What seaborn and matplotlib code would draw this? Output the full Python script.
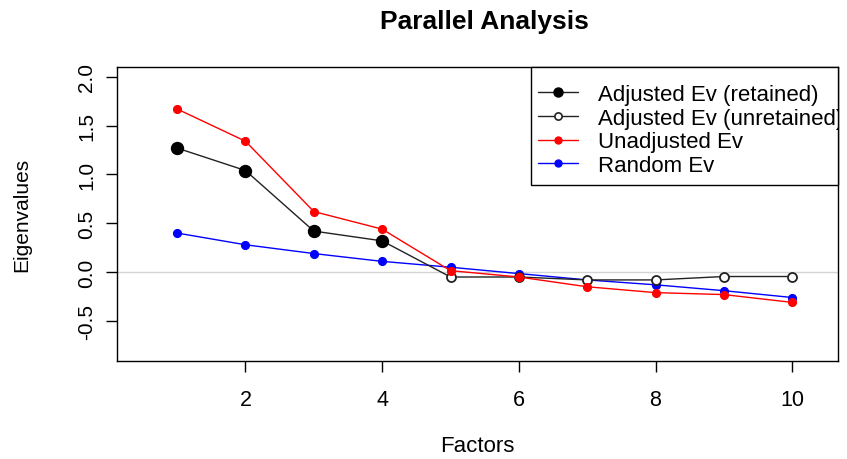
import matplotlib
matplotlib.use("Agg")
import matplotlib.pyplot as plt
import seaborn as sns
import pandas as pd
from matplotlib.lines import Line2D
from matplotlib.patches import Rectangle

factors = [1, 2, 3, 4, 5, 6, 7, 8, 9, 10]
adjusted_ev = [1.27, 1.04, 0.42, 0.32, -0.05, -0.05, -0.08, -0.08, -0.045, -0.045]
n_retained = 4
unadjusted_ev = [1.67, 1.34, 0.62, 0.44, 0.015, -0.05, -0.15, -0.21, -0.23, -0.31]
random_ev = [0.40, 0.28, 0.19, 0.11, 0.05, -0.015, -0.08, -0.13, -0.19, -0.26]
x_ticks = [2, 4, 6, 8, 10]
y_ticks = [-0.5, 0.0, 0.5, 1.0, 1.5, 2.0]
legend_labels = ["Adjusted Ev (retained)", "Adjusted Ev (unretained)",
                 "Unadjusted Ev", "Random Ev"]

df = pd.DataFrame({"factor": factors, "adjusted": adjusted_ev,
                   "unadjusted": unadjusted_ev, "random": random_ev})
ret = df.iloc[:n_retained]
unret = df.iloc[n_retained:]

sns.set_theme(style="white")
plt.rcParams["font.family"] = ["Liberation Sans", "DejaVu Sans"]
plt.rcParams["text.color"] = "black"
plt.rcParams["axes.labelcolor"] = "black"
plt.rcParams["xtick.color"] = "black"
plt.rcParams["ytick.color"] = "black"

fig = plt.figure(figsize=(8.47, 4.60), dpi=100)
ax = fig.add_axes([117 / 847, 1 - 362 / 460, (838 - 117) / 847, (362 - 68) / 460])

ax.axhline(0, color="#d3d3d3", lw=1, zorder=1)

sns.lineplot(data=df, x="factor", y="random", ax=ax, color="blue", lw=1,
             marker="o", markersize=5.8, markeredgecolor="blue", zorder=2)
sns.lineplot(data=df, x="factor", y="adjusted", ax=ax, color="#222222", lw=1, zorder=3)
ax.plot(ret["factor"], ret["adjusted"], "o", color="black", markersize=8.6,
        markeredgecolor="black", zorder=4)
ax.plot(unret["factor"], unret["adjusted"], "o", color="white", markersize=6.5,
        markeredgecolor="#222222", markeredgewidth=1.3, zorder=4)
sns.lineplot(data=df, x="factor", y="unadjusted", ax=ax, color="red", lw=1,
             marker="o", markersize=5.8, markeredgecolor="red", zorder=5)

ax.set_xlim(0.12, 10.67)
ax.set_ylim(-0.91, 2.10)
ax.set_xticks(x_ticks)
ax.set_yticks(y_ticks)
ax.set_yticklabels([f"{v:.1f}" for v in y_ticks])
ax.tick_params(axis="both", direction="out", length=8, width=1, color="black",
               colors="black", left=True, bottom=True)
ax.tick_params(axis="x", pad=12, labelsize=15.5)
ax.tick_params(axis="y", pad=7, labelsize=15)
for lab in ax.get_yticklabels():
    lab.set_rotation(90)
    lab.set_va("center")

for s in ax.spines.values():
    s.set_visible(True)
    s.set_color("black")
    s.set_linewidth(1)

ax.set_xlabel("Factors", fontsize=16, color="black")
ax.set_ylabel("Eigenvalues", fontsize=15, color="black")
ax.xaxis.set_label_coords(0.5, (362 - 447) / 294)
ax.xaxis.label.set_va("center")
ax.yaxis.set_label_coords((22 - 117) / 721, 0.5)
ax.yaxis.label.set_va("center")

fig.text(484 / 847, 1 - 22 / 460, "Parallel Analysis", ha="center", va="center",
         fontsize=19, fontweight="bold", color="black")

# legend frame
rect = Rectangle(((531 - 117) / 721, (362 - 186) / 294), (838 - 531) / 721,
                 (186 - 68) / 294, transform=ax.transAxes, facecolor="white",
                 edgecolor="black", lw=1, zorder=6, clip_on=False)
ax.add_patch(rect)

handles = [
    Line2D([], [], color="#222222", lw=1, marker="o", markersize=6.5, markerfacecolor="black", markeredgecolor="black"),
    Line2D([], [], color="#222222", lw=1, marker="o", markersize=5.2, markerfacecolor="white", markeredgecolor="#222222", markeredgewidth=1.2),
    Line2D([], [], color="red", lw=1, marker="o", markersize=5, markerfacecolor="red", markeredgecolor="red"),
    Line2D([], [], color="blue", lw=1, marker="o", markersize=5, markerfacecolor="blue", markeredgecolor="blue"),
]
leg = ax.legend(handles, legend_labels, loc="upper left",
                bbox_to_anchor=((538 - 117) / 721, (362 - 85) / 294),
                borderaxespad=0, borderpad=0, fontsize=16, frameon=False,
                handlelength=40 / 22.2, handletextpad=20 / 22.2,
                labelspacing=0.12)
leg.set_zorder(7)
for t in leg.get_texts():
    t.set_color("black")
    t.set_clip_on(True)
    t.set_clip_box(ax.bbox)

fig.savefig("out.png", dpi=100)
